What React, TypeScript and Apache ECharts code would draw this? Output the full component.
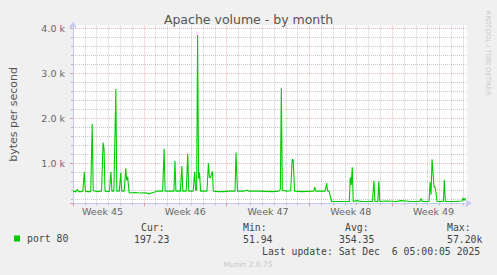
import React, { useEffect, useRef } from 'react';
import * as echarts from 'echarts';

// x = hours since the left edge of the graph (2 px per hour), y = bytes per second
const hours = [
  0, 4, 6, 9, 11, 18, 20, 23, 25, 30, 36, 39, 41, 46, 52, 56, 58, 61, 63, 65,
  72, 74, 77, 79, 83, 87, 89, 94, 97, 99, 104, 107, 109, 111, 114, 126, 136, 146, 152, 156,
  160, 166, 170, 182, 185, 187, 196, 205, 207, 209, 218, 221, 223, 230, 233, 235, 244, 247, 249, 251,
  253, 255, 257, 259, 272, 275, 277, 279, 283, 285, 296, 306, 316, 329, 331, 334, 346, 354, 356, 376,
  406, 418, 421, 423, 425, 434, 442, 445, 447, 450, 466, 489, 491, 493, 506, 512, 515, 517, 520, 525,
  546, 561, 563, 565, 567, 569, 576, 586, 608, 611, 613, 619, 621, 623, 636, 656, 666, 686, 704, 707,
  709, 723, 725, 727, 729, 731, 733, 735, 737, 739, 752, 754, 756, 776, 790, 792, 794, 796, 798,
];
const bytesPerSecond = [
  370, 380, 360, 420, 370, 370, 380, 810, 380, 370, 370, 1870, 390, 380, 370, 380, 380, 1460, 1330, 380,
  370, 380, 810, 380, 380, 2650, 380, 380, 790, 380, 380, 890, 620, 700, 340, 350, 340, 345, 330, 320,
  345, 360, 380, 380, 1320, 380, 380, 380, 1050, 380, 380, 940, 380, 380, 1210, 380, 380, 810, 400, 400,
  3850, 660, 790, 380, 380, 1000, 690, 680, 820, 380, 370, 370, 380, 380, 1240, 380, 380, 400, 380, 380,
  370, 380, 420, 2680, 400, 380, 390, 1080, 1080, 380, 370, 380, 470, 380, 380, 380, 560, 380, 380, 150,
  150, 150, 690, 520, 910, 150, 170, 150, 150, 610, 150, 150, 600, 150, 160, 150, 170, 150, 150, 215,
  150, 150, 580, 300, 1090, 800, 470, 480, 350, 150, 150, 630, 150, 150, 160, 230, 170, 220, 200,
];
const weekNumbers = [45, 46, 47, 48, 49];
const seriesName = 'port 80';
const statLabels = ['Cur:', 'Min:', 'Avg:', 'Max:'];
const statValues = ['197.23', '51.94', '354.35', '57.20k'];
const lastUpdate = 'Last update: Sat Dec\u00a0\u00a06 05:00:05 2025';
const titleText = 'Apache volume - by month';
const yAxisName = 'bytes per second';
const creditText = 'RRDTOOL / TOBI OETIKER';
const versionText = 'Munin 2.0.75';

const SANS = 'DejaVu Sans';
const MONO = 'DejaVu Sans Mono';
const GREEN = '#00cc00';
const AXIS = '#c4c8f4';
const GRID_GRAY = 'rgba(140,140,140,0.45)';
const GRID_RED = 'rgba(225,90,90,0.45)';
const NONE = 'rgba(0,0,0,0)';

export default function App() {
  const ref = useRef<HTMLDivElement>(null);

  useEffect(() => {
    document.body.style.margin = '0';
    if (!ref.current) return;
    const chart = echarts.init(ref.current, undefined, { renderer: 'svg' });

    const statX = [[141, 134], [243, 243], [345, 339], [447, 447]];
    const statGraphics: any[] = [];
    statLabels.forEach((lab, i) => {
      statGraphics.push({
        type: 'text', x: statX[i][0], y: 227.5,
        style: { text: lab, font: `9.8px "${MONO}"`, fill: '#444', textVerticalAlign: 'middle' },
      });
      statGraphics.push({
        type: 'text', x: statX[i][1], y: 239.3,
        style: { text: statValues[i], font: `9.8px "${MONO}"`, fill: '#444', textVerticalAlign: 'middle' },
      });
    });

    const option: any = {
      animation: false,
      backgroundColor: '#f0f0f0',
      title: {
        text: titleText,
        left: 'center',
        top: 12.5,
        padding: 0,
        textStyle: { fontFamily: SANS, fontSize: 12.5, fontWeight: 'normal', color: '#555' },
      },
      grid: {
        left: 67, right: 30, top: 25.6, bottom: 71.7,
        show: true, backgroundColor: '#ffffff', borderWidth: 0,
      },
      legend: {
        data: [seriesName],
        left: 14, top: 233.5, padding: 0,
        icon: 'rect', itemWidth: 6, itemHeight: 6,
        textStyle: { fontFamily: MONO, fontSize: 9.8, color: '#444', padding: [0, 0, 0, 2] },
      },
      xAxis: [
        {
          type: 'value', position: 'bottom', min: 0, max: 800, minInterval: 24, maxInterval: 24,
          axisLine: { show: true, onZero: false, symbol: ['none', 'arrow'], symbolSize: [6, 7], symbolOffset: [0, 5], lineStyle: { color: AXIS, width: 1 } },
          axisTick: { show: true, length: 2, lineStyle: { color: '#bbb' } },
          axisLabel: { show: false },
          splitLine: {
            show: true, showMinLine: true, showMaxLine: false,
            lineStyle: { color: [GRID_GRAY, GRID_GRAY, GRID_GRAY, GRID_GRAY, GRID_GRAY, GRID_GRAY, NONE], type: [1, 1], width: 1 },
          },
        },
        {
          type: 'value', position: 'bottom', min: 24, max: 824, minInterval: 168, maxInterval: 168,
          axisLine: { show: false, onZero: false },
          axisTick: { show: true, length: 3, lineStyle: { color: '#e09a9a' } },
          axisLabel: { show: false },
          splitLine: { show: true, showMinLine: false, showMaxLine: false, lineStyle: { color: GRID_RED, type: [1, 1], width: 1 } },
        },
        {
          type: 'value', position: 'bottom', min: 108, max: 908, minInterval: 168, maxInterval: 168,
          axisLine: { show: false, onZero: false },
          axisTick: { show: false },
          splitLine: { show: false },
          axisLabel: {
            show: true, margin: 3, fontFamily: SANS, fontSize: 9.5, color: '#666',
            showMinLabel: false, showMaxLabel: false,
            formatter: (v: number) => {
              const k = v / 168;
              return Number.isInteger(k) && k >= 1 && k <= weekNumbers.length ? 'Week ' + weekNumbers[k - 1] : '';
            },
          },
        },
      ],
      yAxis: [
        {
          type: 'value', position: 'left', min: 110, max: 4060, minInterval: 200, maxInterval: 200,
          name: yAxisName, nameLocation: 'middle', nameRotate: 90, nameGap: 54,
          nameTextStyle: { fontFamily: SANS, fontSize: 11, color: '#555' },
          axisLine: { show: true, onZero: false, symbol: ['none', 'arrow'], symbolSize: [6, 7], symbolOffset: [0, 4], lineStyle: { color: AXIS, width: 1 } },
          axisTick: { show: true, length: 2, lineStyle: { color: '#bbb' } },
          axisLabel: { show: false },
          splitLine: {
            show: true, showMinLine: true, showMaxLine: false,
            lineStyle: { color: [NONE, GRID_GRAY, GRID_GRAY, GRID_GRAY, GRID_GRAY], type: [1, 1], width: 1 },
          },
        },
        {
          type: 'value', position: 'left', min: 110, max: 4060, minInterval: 1000, maxInterval: 1000,
          axisLine: { show: false, onZero: false },
          axisTick: { show: true, length: 3, lineStyle: { color: '#e09a9a' } },
          axisLabel: {
            show: true, margin: 8, fontFamily: SANS, fontSize: 9.5, color: '#666',
            formatter: (v: number) => (v > 0 && v % 1000 === 0 ? (v / 1000).toFixed(1) + ' k' : ''),
          },
          splitLine: { show: true, showMinLine: false, showMaxLine: false, lineStyle: { color: GRID_RED, type: [1, 1], width: 1 } },
        },
      ],
      series: [
        {
          name: seriesName,
          type: 'line',
          xAxisIndex: 0,
          yAxisIndex: 0,
          data: hours.map((h, i) => [h, bytesPerSecond[i]]),
          showSymbol: false,
          symbol: 'none',
          color: GREEN,
          lineStyle: { color: GREEN, width: 1.1 },
          z: 5,
        },
      ],
      graphic: [
        ...statGraphics,
        {
          type: 'text', x: 262, y: 251.7,
          style: { text: lastUpdate, font: `9.8px "${MONO}"`, fill: '#444', textVerticalAlign: 'middle' },
        },
        {
          type: 'text', x: 248, y: 264,
          style: { text: versionText, font: `7.5px "${SANS}"`, fill: '#c8c8c8', textAlign: 'center', textVerticalAlign: 'middle' },
        },
        {
          type: 'text', x: 488, y: 53, rotation: -Math.PI / 2,
          style: { text: creditText, font: `6.6px "${SANS}"`, fill: '#c8c8c8', textAlign: 'center', textVerticalAlign: 'middle' },
        },
      ],
    };

    chart.setOption(option);
    return () => chart.dispose();
  }, []);

  return <div ref={ref} style={{ width: 497, height: 275 }} />;
}
